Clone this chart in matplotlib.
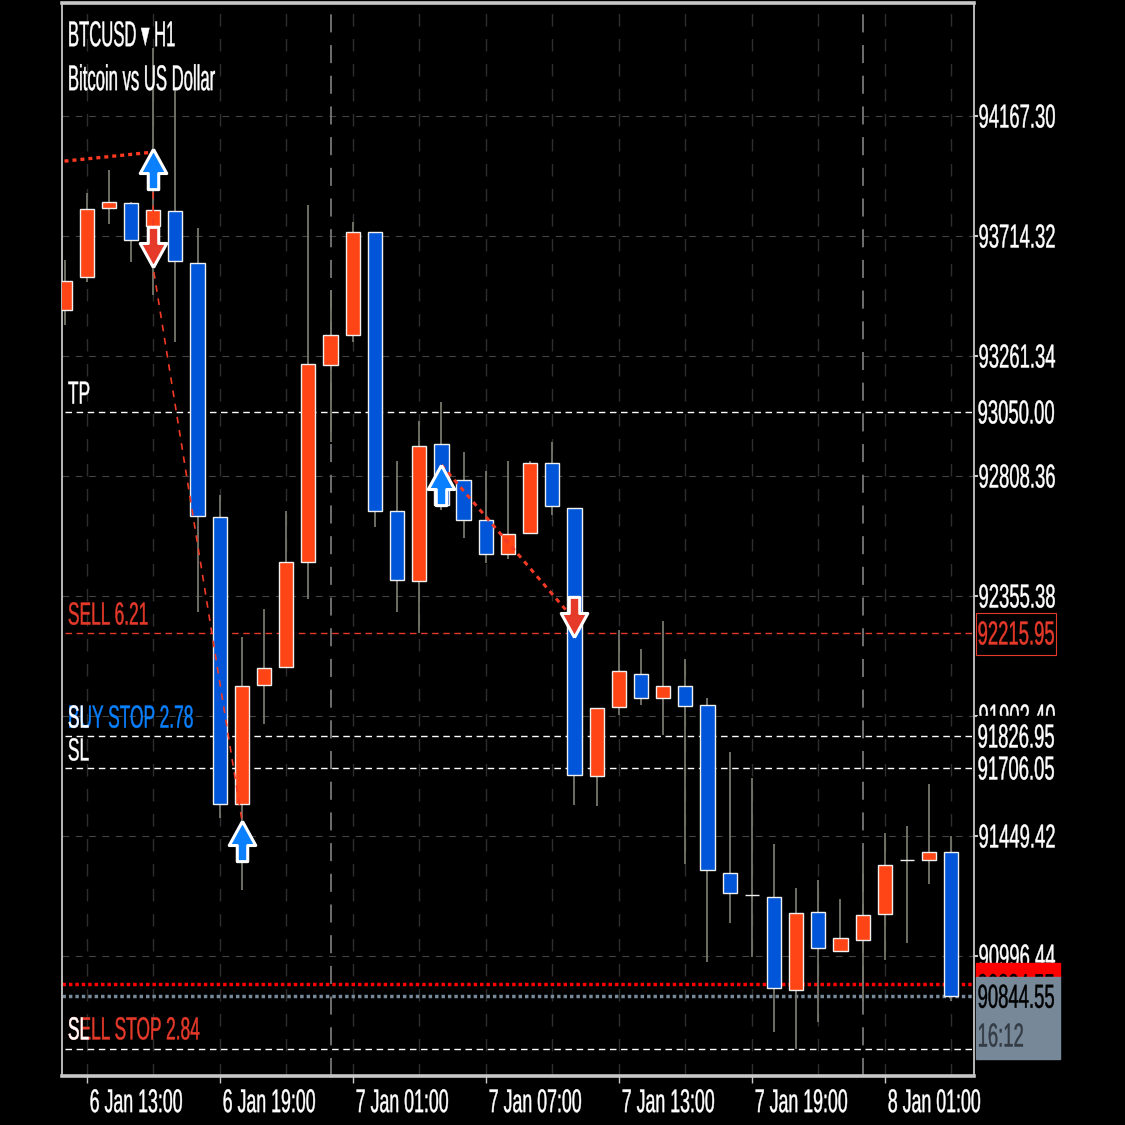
import matplotlib
matplotlib.use('Agg')
import matplotlib.pyplot as plt
from matplotlib.markers import MarkerStyle
from matplotlib.patches import Rectangle
from matplotlib.patheffects import AbstractPathEffect
from matplotlib.transforms import Affine2D, ScaledTranslation

plt.rcParams['font.family'] = ['Liberation Sans', 'DejaVu Sans']

# hourly candles, first one is 6 Jan 12:00
opens = [93435, 93559, 93820, 93839, 93752, 93809, 93612, 92654, 91570, 92019, 92087,
         92484, 93227, 93340, 93729, 92677, 92412, 92929, 92793, 92642, 92514, 92593,
         92857, 92688, 91675, 91936, 92061, 91970, 92015, 91943, 91309, 91226, 91219,
         90868, 91162, 91015, 91056, 91155, 91358, 91358, 91389]
closes = [93544, 93816, 93843, 93699, 93812, 93620, 92657, 91570, 92015, 92083, 92484,
          93231, 93340, 93729, 92677, 92416, 92921, 92699, 92642, 92514, 92590, 92857,
          92695, 91679, 91932, 92072, 91970, 92015, 91940, 91320, 91234, 91226, 90875,
          91158, 91026, 91064, 91151, 91339, 91358, 91389, 90845]
highs = [93624, 93877, 93963, 93843, 94424, 94273, 93744, 92737, 92201, 92306, 92677,
         93831, 93510, 93767, 93729, 92865, 93016, 93088, 92899, 92827, 92865, 92865,
         92937, 92688, 91932, 92227, 92155, 92261, 92118, 91970, 91766, 91668, 91419,
         91253, 91283, 91211, 91355, 91460, 91487, 91645, 91449]
lows = [93378, 93540, 93759, 93616, 93491, 93314, 92295, 91517, 91245, 91872, 92087,
        92344, 92937, 93314, 92616, 92295, 92216, 92680, 92575, 92480, 92495, 92590,
        92661, 91566, 91562, 91906, 91943, 91830, 91343, 90973, 91120, 90992, 90709,
        90645, 90747, 91015, 90826, 90981, 91045, 91268, 90826]

grid_prices = [94167.30, 93714.32, 93261.34, 92808.36, 92355.38, 91902.40, 91449.42, 90996.44]
grid_labels = ['94167.30', '93714.32', '93261.34', '92808.36', '92355.38', '91902.40', '91449.42', '90996.44']
date_ticks = [1, 7, 13, 19, 25, 31, 37]
date_labels = ['6 Jan 13:00', '6 Jan 19:00', '7 Jan 01:00', '7 Jan 07:00', '7 Jan 13:00', '7 Jan 19:00', '8 Jan 01:00']
minor_ticks = [4, 10, 16, 22, 28, 34, 40]
day_lines = [12, 36]

tp_price = 93050.00
sl_price = 91706.05
sell_price = 92215.95
buy_stop_price = 91826.95
sell_stop_price = 90645.4
ask_price = 90892
bid_price = 90844.55

# arrow centres
up_x, up_y = [4, 8, 17], [93969, 91429, 92776]
down_x, down_y = [4, 23], [93674, 92276]

# trade lines
trade1_x, trade1_y = [0, 4], [93997, 94031]
trade2_x, trade2_y = [4, 4, 8], [94031, 93594, 91510]
trade3_x, trade3_y = [17, 23], [92850, 92265]

ORANGE = '#ff4515'
BLUE = '#0055d8'
RED = '#e5392a'
LIGHT_BLUE = '#0a80ff'
SLATE = '#778899'
FS = 13.3
FS_DATE = 12.8
FS_SMALL = 12.5


# the screenshot is squeezed sideways, so the glyphs are drawn taller than the font
class Tall(AbstractPathEffect):
    def __init__(self, sy, drop=0.0, stroke=0.3):
        super().__init__()
        self.sy = sy
        self.drop = drop
        self.stroke = stroke

    def draw_path(self, renderer, gc, tpath, affine, rgbFace=None):
        gc0 = renderer.new_gc()
        gc0.copy_properties(gc)
        gc0.set_linewidth(self.stroke)
        gc0.set_foreground(rgbFace)
        tr = Affine2D().scale(1, self.sy) + affine + Affine2D().translate(0, -self.drop)
        renderer.draw_path(gc0, tpath, tr, rgbFace)
        gc0.restore()


label_fx = [Tall(1.8, 11.5)]
order_fx = [Tall(1.84, 11.5)]
head_fx = [Tall(2.15, 13)]

fig = plt.figure(figsize=(11.25, 11.25), dpi=100, facecolor='black')
ax = fig.add_axes([62 / 1125, 1 - 1076 / 1125, (973.5 - 62) / 1125, (1076 - 3) / 1125], facecolor='black')
ax.set_xlim(-0.113, 41.0)
ax.set_ylim(90543.4, 94593.9)

for side, width in [('left', 1.3), ('right', 1.3), ('top', 2.6), ('bottom', 2.6)]:
    ax.spines[side].set_color('#c8c8c8')
    ax.spines[side].set_linewidth(width)

# grid
for p in grid_prices:
    ax.axhline(p, color='#444444', lw=0.8, dashes=(6, 6), zorder=1)
for x in date_ticks + minor_ticks:
    ax.axvline(x, color='#2e2e2e', lw=1.0, dashes=(9, 9), zorder=1)
for x in day_lines:
    ax.axvline(x, color='#777777', lw=1.3, dashes=(10, 7), zorder=1)

# levels
for p in [tp_price, sl_price, buy_stop_price, sell_stop_price]:
    ax.plot([0, 41], [p, p], color='white', lw=1.0, dashes=(4.7, 3.3), zorder=2)
ax.plot([0, 41], [sell_price, sell_price], color=RED, lw=1.0, dashes=(4.7, 3.3), zorder=2)
ax.axhline(ask_price, color='#ff0000', lw=2.5, dashes=(1, 0.85), zorder=2)
ax.axhline(bid_price, color=SLATE, lw=2.5, dashes=(1, 0.85), zorder=2)

# candles
x_vals = list(range(len(opens)))
ax.vlines(x_vals, lows, highs, color='#77776c', lw=1.3, zorder=3)
bottoms = [min(o, c) for o, c in zip(opens, closes)]
heights = [abs(o - c) for o, c in zip(opens, closes)]
colors = [ORANGE if c >= o else BLUE for o, c in zip(opens, closes)]
ax.bar(x_vals, heights, bottom=bottoms, width=0.64, color=colors, edgecolor='#f0f0f0', linewidth=1.0, zorder=4)

# trade lines and arrows
ax.plot(trade1_x, trade1_y, color='#ff3a20', lw=2.4, dashes=(1.2, 1.2), zorder=5)
ax.plot(trade2_x, trade2_y, color='#f03a25', lw=1.2, dashes=(4, 4), zorder=5)
ax.plot(trade3_x, trade3_y, color='#f03a25', lw=2.2, dashes=(1.6, 1.6), zorder=5)

up_verts = [(0, 1), (0.66, -0.2), (0.26, -0.2), (0.26, -1), (-0.26, -1), (-0.26, -0.2), (-0.66, -0.2), (0, 1)]
down_verts = [(vx, -vy) for vx, vy in up_verts]
ax.plot(up_x, up_y, ls='none', marker=MarkerStyle(up_verts, joinstyle='miter'), ms=29, mfc=LIGHT_BLUE,
        mec='white', mew=2.2, zorder=6)
ax.plot(down_x, down_y, ls='none', marker=MarkerStyle(down_verts, joinstyle='miter'), ms=29, mfc=RED,
        mec='white', mew=2.2, zorder=6)

# axis ticks
ax.yaxis.tick_right()
ax.set_yticks(grid_prices)
ax.set_yticklabels(grid_labels, color='white', fontsize=FS)
ax.tick_params(axis='y', length=3, width=1.5, color='#c8c8c8', pad=0.6)
for lab in ax.get_yticklabels():
    lab.set_va('baseline')
    lab.set_path_effects(label_fx)
ax.set_xticks(date_ticks)
ax.set_xticklabels(date_labels, color='white', fontsize=FS_DATE, ha='left')
ax.tick_params(axis='x', length=5, width=1, color='#c8c8c8', pad=21)
for lab in ax.get_xticklabels():
    lab.set_va('baseline')
    lab.set_path_effects([Tall(1.85, 0)])
    lab.set_transform(lab.get_transform() + ScaledTranslation(3 / 100, 0, fig.dpi_scale_trans))

# price labels on the right
trans = ax.get_yaxis_transform()
label_x = 1.0045


def price_label(p, txt, color='white', z=10):
    ax.text(label_x, p, txt, transform=trans, color=color, fontsize=FS, va='baseline', ha='left',
            clip_on=False, zorder=z, path_effects=label_fx)


ax.add_patch(Rectangle((1.0035, 91902), 0.0925, -136, transform=trans, color='black', clip_on=False, zorder=8))
price_label(buy_stop_price, '91826.95')
price_label(sl_price, '91706.05')
price_label(tp_price, '93050.00')
ax.add_patch(Rectangle((1.0025, 92132), 0.0875, 158, transform=trans, facecolor='black', edgecolor=RED,
                       lw=0.8, clip_on=False, zorder=8))
price_label(sell_price, '92215.95', color=RED)

ax.add_patch(Rectangle((1.0025, 90917), 0.0925, 53, transform=trans, color='#ff0000', clip_on=False, zorder=8))
price_label(90884.55, '90884.55', color='black', z=9)
ax.add_patch(Rectangle((1.0025, 90607), 0.0925, 310, transform=trans, color=SLATE, clip_on=False, zorder=9.5))
price_label(bid_price, '90844.55', color='black')
ax.text(label_x, 90698, '16:12', transform=trans, color='#333b44', fontsize=FS, va='baseline', ha='left',
        clip_on=False, zorder=10, path_effects=label_fx)

# order labels in the chart
left = 0.0065
for price, txt, col in [(93125, 'TP', 'white'), (92291, 'SELL 6.21', RED), (91902, 'BUY STOP 2.78', LIGHT_BLUE),
                        (91902, 'SL', 'white'), (91778, 'SL', 'white'), (90725, 'SELL STOP 2.84', RED),
                        (90725, 'SL', 'white')]:
    ax.text(left, price, txt, transform=trans, color=col, fontsize=FS_SMALL, va='baseline', zorder=7,
            path_effects=order_fx)

# header
ax.text(left, 94480, 'BTCUSD \u25be H1', transform=trans, color='white', fontsize=12, va='baseline', zorder=7,
        path_effects=head_fx)
ax.text(left, 94314, 'Bitcoin vs US Dollar', transform=trans, color='white', fontsize=12, va='baseline', zorder=7,
        path_effects=head_fx)

fig.savefig('out.png', dpi=100, facecolor='black')
